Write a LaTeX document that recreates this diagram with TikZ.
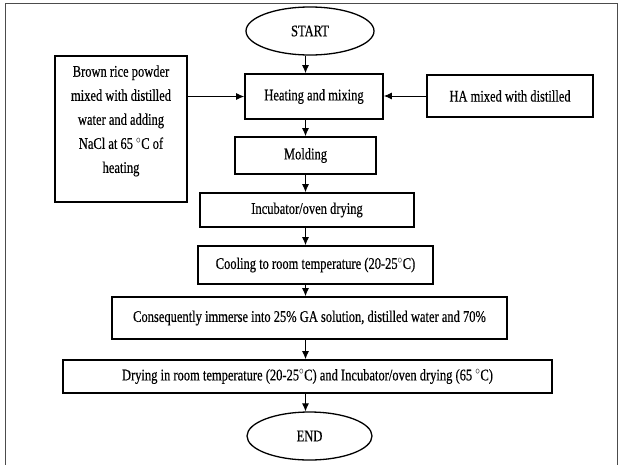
\documentclass[tikz,border=0pt]{standalone}
\usepackage{fontspec}
\usepackage{graphicx}
\setmainfont{Liberation Serif}[FakeBold=0.5]
\usetikzlibrary{shapes.geometric,arrows.meta}
\newcommand{\tx}[1]{\scalebox{1}[1.3]{#1}}
\newcommand{\dg}{${}^{\circ}$}
\tikzset{
  boxnode/.style={draw=black, line width=1.7pt, rectangle, inner sep=0pt},
  ovalnode/.style={draw=black, line width=1.3pt, ellipse, inner sep=0pt},
  arr/.style={line width=0.9pt, -{Latex[length=8pt,width=7pt]}},
  frameline/.style={draw=black!70, line width=1pt},
  every node/.style={font=\fontsize{12.5}{18.5}\selectfont}
}
\begin{document}
\begin{tikzpicture}[x=1pt,y=-1pt]
\useasboundingbox (0,0) rectangle (620,464);
\draw[frameline] (5,470) -- (5,3.5) -- (617,3.5) -- (617,470);

\node[ovalnode, minimum width=128pt, minimum height=48pt] (start) at (310,31) {\tx{START}};
\node[boxnode, minimum width=138pt, minimum height=45pt] (heat) at (314,96.5) {\tx{Heating and mixing}};
\node[boxnode, minimum width=132pt, minimum height=146pt] (brown) at (121,129) {};
\node (browntxt) at (121,120) {\tx{\begin{tabular}{@{}c@{}}Brown rice powder\\ mixed with distilled\\ water and adding\\ NaCl at 65 \dg C of\\ heating\end{tabular}}};
\node[boxnode, minimum width=166pt, minimum height=42pt] (ha) at (510,96) {\tx{HA mixed with distilled}};
\node[boxnode, minimum width=141pt, minimum height=37pt] (mold) at (305.5,155.5) {\tx{Molding}};
\node[boxnode, minimum width=214pt, minimum height=34pt] (incub) at (307,210) {\tx{Incubator/oven drying}};
\node[boxnode, minimum width=235pt, minimum height=38pt] (cool) at (315.5,265) {\tx{Cooling to room temperature (20-25\dg C)}};
\node[boxnode, minimum width=395pt, minimum height=42pt] (cons) at (309.5,318) {\tx{Consequently immerse into 25\% GA solution, distilled water and 70\%}};
\node[boxnode, minimum width=489pt, minimum height=33pt] (dry) at (307.5,376.5) {\tx{Drying in room temperature (20-25\dg C) and Incubator/oven drying (65 \dg C)}};
\node[ovalnode, minimum width=125pt, minimum height=48pt] (end) at (309.5,436) {\tx{END}};

\draw[arr] (start.south -| mold) -- (heat.north -| mold);
\draw[arr] (heat.south -| mold) -- (mold.north);
\draw[arr] (mold.south) -- (incub.north -| mold);
\draw[arr] (incub.south -| mold) -- (cool.north -| mold);
\draw[arr] (cool.south -| mold) -- (cons.north -| mold);
\draw[arr] (cons.south -| mold) -- (dry.north -| mold);
\draw[arr] (dry.south -| mold) -- (end.north -| mold);
\draw[arr] (brown.east |- heat.west) -- (heat.west);
\draw[arr] (ha.west) -- (heat.east |- ha.west);
\end{tikzpicture}
\end{document}
